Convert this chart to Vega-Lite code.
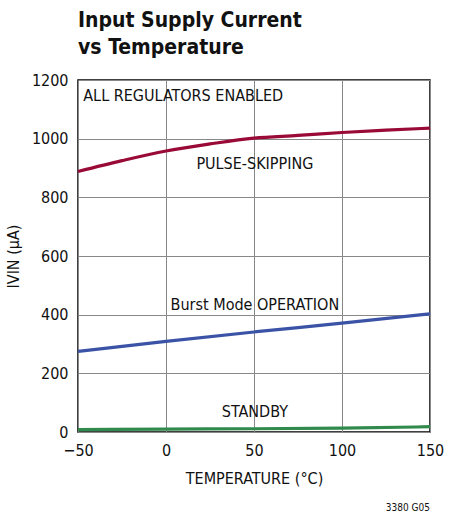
{
  "$schema": "https://vega.github.io/schema/vega-lite/v6.json",
  "autosize": "none",
  "width": 352,
  "height": 352,
  "padding": {"left": 78, "top": 80, "right": 19, "bottom": 86},
  "background": "white",
  "title": {
    "text": ["Input Supply Current", "vs Temperature"],
    "anchor": "start",
    "align": "left",
    "frame": "group",
    "font": "DejaVu Sans Condensed, Liberation Sans, sans-serif",
    "fontSize": 21,
    "fontWeight": "bold",
    "color": "#111",
    "lineHeight": 27,
    "offset": 14
  },
  "config": {
    "view": {"stroke": "black", "strokeWidth": 1.5},
    "axis": {
      "labelFont": "DejaVu Sans Condensed, Liberation Sans, sans-serif",
      "titleFont": "DejaVu Sans Condensed, Liberation Sans, sans-serif",
      "labelFontSize": 16,
      "titleFontSize": 16,
      "titleFontWeight": "normal",
      "labelColor": "#111",
      "titleColor": "#111",
      "gridColor": "#888",
      "gridWidth": 1,
      "gridOpacity": 1,
      "domain": false,
      "ticks": false
    }
  },
  "datasets": {
    "curves": [
      {"t": -50, "i": 888, "mode": "PULSE-SKIPPING"},
      {"t": -25, "i": 925, "mode": "PULSE-SKIPPING"},
      {"t": 0, "i": 958, "mode": "PULSE-SKIPPING"},
      {"t": 25, "i": 982, "mode": "PULSE-SKIPPING"},
      {"t": 50, "i": 1002, "mode": "PULSE-SKIPPING"},
      {"t": 75, "i": 1011, "mode": "PULSE-SKIPPING"},
      {"t": 100, "i": 1021, "mode": "PULSE-SKIPPING"},
      {"t": 125, "i": 1029, "mode": "PULSE-SKIPPING"},
      {"t": 150, "i": 1036, "mode": "PULSE-SKIPPING"},
      {"t": -50, "i": 275, "mode": "BURST"},
      {"t": 0, "i": 309, "mode": "BURST"},
      {"t": 50, "i": 341, "mode": "BURST"},
      {"t": 100, "i": 371, "mode": "BURST"},
      {"t": 150, "i": 403, "mode": "BURST"},
      {"t": -50, "i": 8, "mode": "STANDBY"},
      {"t": 0, "i": 10, "mode": "STANDBY"},
      {"t": 50, "i": 11, "mode": "STANDBY"},
      {"t": 100, "i": 13, "mode": "STANDBY"},
      {"t": 150, "i": 18, "mode": "STANDBY"}
    ],
    "leftlabels": [
      {"t": -47, "i": 1145, "text": "ALL REGULATORS ENABLED"}
    ],
    "centerlabels": [
      {"t": 50.5, "i": 915, "text": "PULSE-SKIPPING"},
      {"t": 50.5, "i": 432, "text": "Burst Mode OPERATION"},
      {"t": 50.5, "i": 67, "text": "STANDBY"}
    ]
  },
  "layer": [
    {
      "data": {"name": "curves"},
      "mark": {"type": "line", "strokeWidth": 3.2, "interpolate": "monotone"},
      "encoding": {
        "x": {
          "field": "t", "type": "quantitative",
          "scale": {"domain": [-50, 150], "nice": false},
          "axis": {"values": [-50, 0, 50, 100, 150], "title": "TEMPERATURE (°C)", "labelPadding": 10, "titlePadding": 12, "labelFlush": false}
        },
        "y": {
          "field": "i", "type": "quantitative",
          "scale": {"domain": [0, 1200], "nice": false},
          "axis": {"values": [0, 200, 400, 600, 800, 1000, 1200], "format": "d", "title": "IVIN  (µA)", "labelPadding": 10, "titlePadding": 10}
        },
        "color": {
          "field": "mode", "type": "nominal", "legend": null,
          "scale": {"domain": ["PULSE-SKIPPING", "BURST", "STANDBY"], "range": ["#9a0a36", "#3b53a6", "#2f8a4c"]}
        }
      }
    },
    {
      "data": {"name": "leftlabels"},
      "mark": {"type": "text", "font": "DejaVu Sans Condensed, Liberation Sans, sans-serif", "fontSize": 16, "color": "#111", "baseline": "middle", "align": "left"},
      "encoding": {
        "x": {"field": "t", "type": "quantitative"},
        "y": {"field": "i", "type": "quantitative"},
        "text": {"field": "text"}
      }
    },
    {
      "data": {"name": "centerlabels"},
      "mark": {"type": "text", "font": "DejaVu Sans Condensed, Liberation Sans, sans-serif", "fontSize": 16, "color": "#111", "baseline": "middle", "align": "center"},
      "encoding": {
        "x": {"field": "t", "type": "quantitative"},
        "y": {"field": "i", "type": "quantitative"},
        "text": {"field": "text"}
      }
    },
    {
      "data": {"values": [{"t": 150, "i": -260, "text": "3380 G05"}]},
      "mark": {"type": "text", "font": "DejaVu Sans Condensed, Liberation Sans, sans-serif", "fontSize": 10, "color": "#111", "align": "right", "baseline": "middle", "clip": false},
      "encoding": {
        "x": {"field": "t", "type": "quantitative"},
        "y": {"field": "i", "type": "quantitative"},
        "text": {"field": "text"}
      }
    }
  ]
}
